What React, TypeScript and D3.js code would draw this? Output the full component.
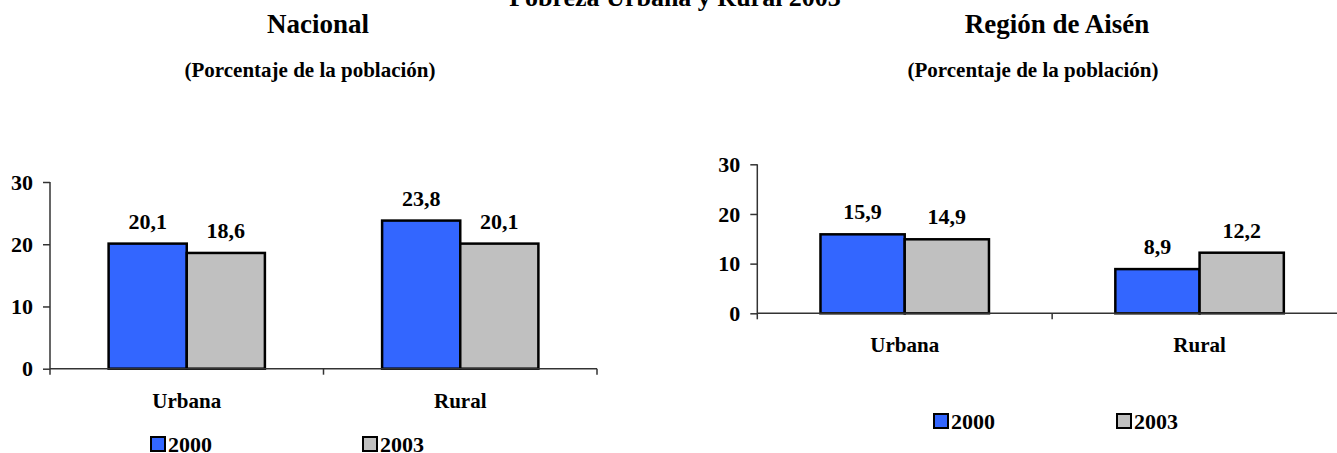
import React, { useEffect, useRef } from 'react';
import * as d3 from 'd3';

const categories = ['Urbana', 'Rural'];
const years = ['2000', '2003'];
const nacional2000 = [20.1, 23.8];
const nacional2003 = [18.6, 20.1];
const aisen2000 = [15.9, 8.9];
const aisen2003 = [14.9, 12.2];
const yTicks = [0, 10, 20, 30];

const mainTitle = 'Pobreza Urbana y Rural 2003';
const subTitle = '(Porcentaje de la población)';

const colors = ['#3366FF', '#C0C0C0'];
const FONT = '"Liberation Serif", "Times New Roman", serif';

const fmt = d3.formatLocale({ decimal: ',', thousands: '.', grouping: [3], currency: ['', ''] }).format('.1f');

interface PanelConfig {
  title: string;
  titleX: number;
  subX: number;
  series: number[][];
  xRange: [number, number];
  yRange: [number, number];
  legendY: number;
  legendX: [number, number];
}

const App: React.FC = () => {
  const svgRef = useRef<SVGSVGElement>(null);

  useEffect(() => {
    if (!svgRef.current) return;
    const svg = d3.select(svgRef.current);
    svg.selectAll('*').remove();

    // main title, cut off at the top like in the source
    svg.append('text')
      .attr('x', 675)
      .attr('y', 6)
      .attr('text-anchor', 'middle')
      .style('font-family', FONT)
      .style('font-weight', 'bold')
      .style('font-size', '26px')
      .text(mainTitle);

    const panels: PanelConfig[] = [
      {
        title: 'Nacional', titleX: 318, subX: 310,
        series: [nacional2000, nacional2003],
        xRange: [50, 597], yRange: [368.7, 182],
        legendY: 437, legendX: [151, 363],
      },
      {
        title: 'Región de Aisén', titleX: 1057, subX: 1033,
        series: [aisen2000, aisen2003],
        xRange: [757.3, 1347], yRange: [313.3, 164.3],
        legendY: 414, legendX: [934, 1117],
      },
    ];

    panels.forEach(p => {
      const g = svg.append('g');

      g.append('text')
        .attr('x', p.titleX).attr('y', 33)
        .attr('text-anchor', 'middle')
        .style('font-family', FONT).style('font-weight', 'bold').style('font-size', '27px')
        .text(p.title);

      g.append('text')
        .attr('x', p.subX).attr('y', 77)
        .attr('text-anchor', 'middle')
        .style('font-family', FONT).style('font-weight', 'bold').style('font-size', '21px')
        .text(subTitle);

      const x0 = d3.scaleBand().domain(categories).range(p.xRange).paddingInner(0).paddingOuter(0);
      const x1 = d3.scaleBand().domain(years).range([0, x0.bandwidth()]).paddingInner(0).paddingOuter(0.75);
      const y = d3.scaleLinear().domain([0, 30]).range(p.yRange);

      // bars
      const rows = categories.map((c, i) => ({ c, vals: years.map((yr, j) => ({ yr, v: p.series[j][i], j })) }));
      const grp = g.selectAll('.grp').data(rows).enter().append('g')
        .attr('transform', d => `translate(${x0(d.c)},0)`);

      grp.selectAll('rect').data(d => d.vals).enter().append('rect')
        .attr('x', d => x1(d.yr) || 0)
        .attr('y', d => y(d.v))
        .attr('width', x1.bandwidth())
        .attr('height', d => y(0) - y(d.v))
        .attr('fill', d => colors[d.j])
        .attr('stroke', '#000')
        .attr('stroke-width', 2.5);

      grp.selectAll('.val').data(d => d.vals).enter().append('text')
        .attr('x', d => (x1(d.yr) || 0) + x1.bandwidth() / 2)
        .attr('y', d => y(d.v) - 15)
        .attr('text-anchor', 'middle')
        .style('font-family', FONT).style('font-weight', 'bold').style('font-size', '22px')
        .text(d => fmt(d.v));

      // y axis
      const yAxis = g.append('g')
        .attr('transform', `translate(${p.xRange[0]},0)`)
        .call(d3.axisLeft(y).tickValues(yTicks).tickSize(7).tickPadding(10).tickSizeOuter(0));
      yAxis.select('.domain').remove();
      yAxis.selectAll('line').attr('stroke', '#333').attr('stroke-width', 1.5);
      yAxis.selectAll('text')
        .style('font-family', FONT).style('font-weight', 'bold').style('font-size', '22px')
        .attr('fill', '#000');

      g.append('line')
        .attr('x1', p.xRange[0]).attr('x2', p.xRange[0])
        .attr('y1', y(30)).attr('y2', y(0) + 6)
        .attr('stroke', '#333').attr('stroke-width', 1.5);

      // x axis
      g.append('line')
        .attr('x1', p.xRange[0]).attr('x2', p.xRange[1])
        .attr('y1', y(0)).attr('y2', y(0))
        .attr('stroke', '#333').attr('stroke-width', 1.5);

      const bounds = categories.map(c => (x0(c) || 0) + x0.bandwidth());
      g.selectAll('.xtick').data(bounds).enter().append('line')
        .attr('x1', d => d).attr('x2', d => d)
        .attr('y1', y(0)).attr('y2', y(0) + 6)
        .attr('stroke', '#333').attr('stroke-width', 1.5);

      g.selectAll('.cat').data(categories).enter().append('text')
        .attr('x', d => (x0(d) || 0) + x0.bandwidth() / 2)
        .attr('y', y(0) + 39)
        .attr('text-anchor', 'middle')
        .style('font-family', FONT).style('font-weight', 'bold').style('font-size', '21px')
        .text(d => d);

      // legend
      years.forEach((yr, j) => {
        g.append('rect')
          .attr('x', p.legendX[j]).attr('y', p.legendY)
          .attr('width', 14).attr('height', 14)
          .attr('fill', colors[j]).attr('stroke', '#000').attr('stroke-width', 2);
        g.append('text')
          .attr('x', p.legendX[j] + 17).attr('y', p.legendY + 15)
          .style('font-family', FONT).style('font-weight', 'bold').style('font-size', '22px')
          .text(yr);
      });
    });
  }, []);

  return (
    <svg ref={svgRef} width={1337} height={453}
      style={{ position: 'absolute', left: 0, top: 0, background: '#fff' }} />
  );
};

export default App;
